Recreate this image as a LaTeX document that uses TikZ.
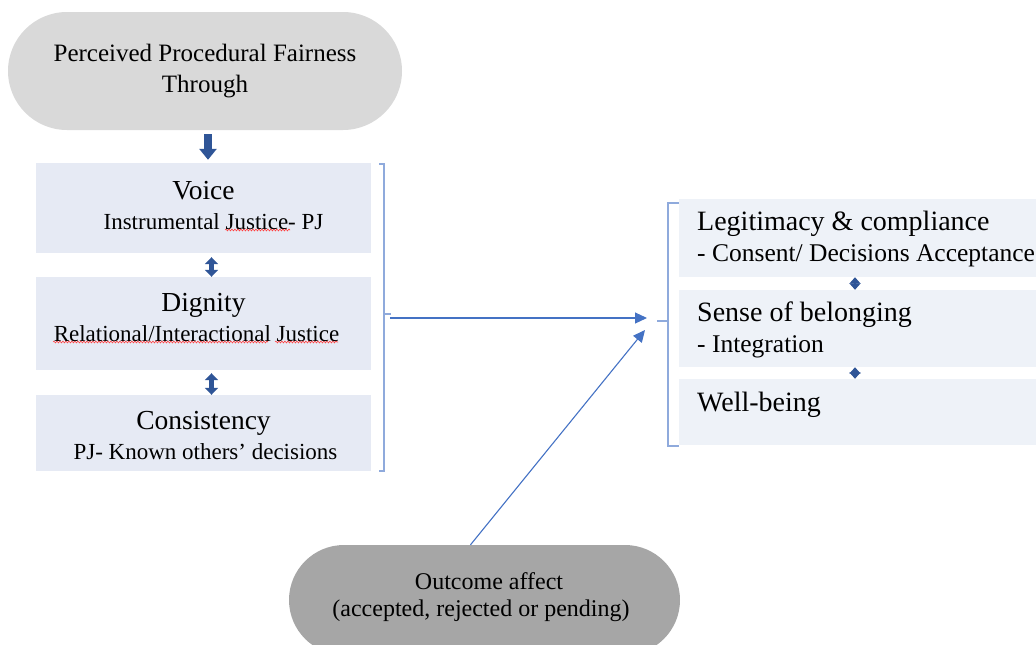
\documentclass[tikz,border=0pt]{standalone}
\usepackage{fontspec}
\setmainfont{Liberation Serif}
\usetikzlibrary{arrows.meta,decorations.pathmorphing}
\definecolor{topgray}{HTML}{D9D9D9}
\definecolor{botgray}{HTML}{A6A6A6}
\definecolor{lbox}{HTML}{E6EAF4}
\definecolor{rbox}{HTML}{EEF2F8}
\definecolor{dblue}{HTML}{2F5597}
\definecolor{lineblue}{HTML}{4472C4}
\definecolor{brblue}{HTML}{8FAADC}
\begin{document}
\begin{tikzpicture}[x=1pt,y=-1pt,
  stad/.style={draw=none,rectangle,inner sep=0pt},
  lbx/.style={draw=none,fill=lbox,minimum width=335pt,inner sep=0pt},
  rbx/.style={draw=none,fill=rbox,minimum width=357pt,inner sep=0pt,anchor=west},
  ltxt/.style={align=center,inner sep=0pt,font=\fontsize{23}{30}\selectfont},
  rtxt/.style={align=left,inner sep=0pt,anchor=west,font=\fontsize{25.5}{31.5}\selectfont},
  dblarr/.style={dblue,line width=4.5pt,{Triangle[width=13pt,length=7pt]}-{Triangle[width=13pt,length=7pt]}},
  tinyarr/.style={dblue,line width=2pt,{Triangle[width=11pt,length=6.5pt]}-{Triangle[width=11pt,length=6.5pt]}},
  conn/.style={lineblue,line width=1.1pt,-{Triangle[width=11pt,length=12pt]}},
  brk/.style={brblue,line width=1.1pt},
  wavy/.style={red!75,line width=0.6pt,decorate,decoration={snake,amplitude=0.9pt,segment length=3pt}},
]
\useasboundingbox (0,0) rectangle (1036,645);

% top stadium
\node[stad,fill=topgray,minimum width=394pt,minimum height=118pt,rounded corners=59pt,
  align=center,font=\fontsize{25}{31}\selectfont] (top) at (205,71)
  {Perceived Procedural Fairness\\Through};

% left boxes
\node[lbx,minimum height=90pt] (voice) at (203.5,208) {};
\node[lbx,minimum height=93pt] (dignity) at (203.5,323.5) {};
\node[lbx,minimum height=76pt] (consist) at (203.5,433) {};
\node[ltxt] (voicet) at (203.5,206)
  {{\fontsize{27.5}{30}\selectfont Voice}\\\hspace*{20pt}Instrumental Justice- PJ};
\node[ltxt] (dignityt) at (203.5,318)
  {{\fontsize{27.5}{30}\selectfont Dignity}\\Relational/Interactional Justice\hspace*{14pt}};
\node[ltxt] (consistt) at (203.5,436)
  {{\fontsize{27.5}{30}\selectfont Consistency}\\\hspace*{4pt}PJ- Known others’ decisions};

% spell-check underlines
\draw[wavy] (225,230) -- (290,230);
\draw[wavy] (53,342) -- (268,342);
\draw[wavy] (275,342) -- (338,342);

% block arrows
\draw[dblue,line width=8.5pt,-{Triangle[width=17pt,length=11pt]},shorten <=4pt,shorten >=3pt]
  ([xshift=3pt]top.south) -- ([xshift=4.5pt]voice.north);
\draw[dblarr,shorten <=4pt,shorten >=0pt] ([xshift=8pt]voice.south) -- ([xshift=8pt]dignity.north);
\draw[dblarr,shorten <=3pt,shorten >=0pt] ([xshift=8pt]dignity.south) -- ([xshift=8pt]consist.north);

% right boxes
\node[rbx,minimum height=78pt] (legit) at (679,238) {};
\node[rbx,minimum height=77pt] (belong) at (679,328.5) {};
\node[rbx,minimum height=66pt] (well) at (679,412) {};
\node[rtxt] (legitt) at (697,239)
  {{\fontsize{28}{31.5}\selectfont Legitimacy \& compliance}\\- Consent/ Decisions Acceptance};
\node[rtxt] (belongt) at (697,330)
  {{\fontsize{28}{31.5}\selectfont Sense of belonging}\\- Integration};
\node[rtxt,font=\fontsize{28}{31.5}\selectfont] (wellt) at (697,405) {Well-being};

\coordinate (dx) at (855,0);
\draw[tinyarr] (legit.south -| dx) -- (belong.north -| dx);
\draw[tinyarr] (belong.south -| dx) -- (well.north -| dx);

% brackets
\draw[brk] (379,164) -- (384,164) -- (384,471) -- (379,471);
\draw[brk] (384,314) -- (391,314);
\coordinate (lbm) at (390,318);
\draw[brk] (679,203) -- (668,203) -- (668,446) -- (679,446);
\draw[brk] (668,321) -- (657,321);

% bottom stadium
\node[stad,fill=botgray,minimum width=391pt,minimum height=110pt,rounded corners=55pt] (outcome) at (484.5,600) {};
\node[align=center,inner sep=0pt,font=\fontsize{24}{27}\selectfont] (outcomet) at (481,597.5)
  {\hspace*{16pt}Outcome affect\\(accepted, rejected or pending)};

% connectors
\coordinate (t1) at (647,318);
\coordinate (t2) at (645,330);
\draw[conn] (lbm) -- (t1);
\draw[conn] ([xshift=-14pt]outcome.north) -- (t2);
\end{tikzpicture}
\end{document}
